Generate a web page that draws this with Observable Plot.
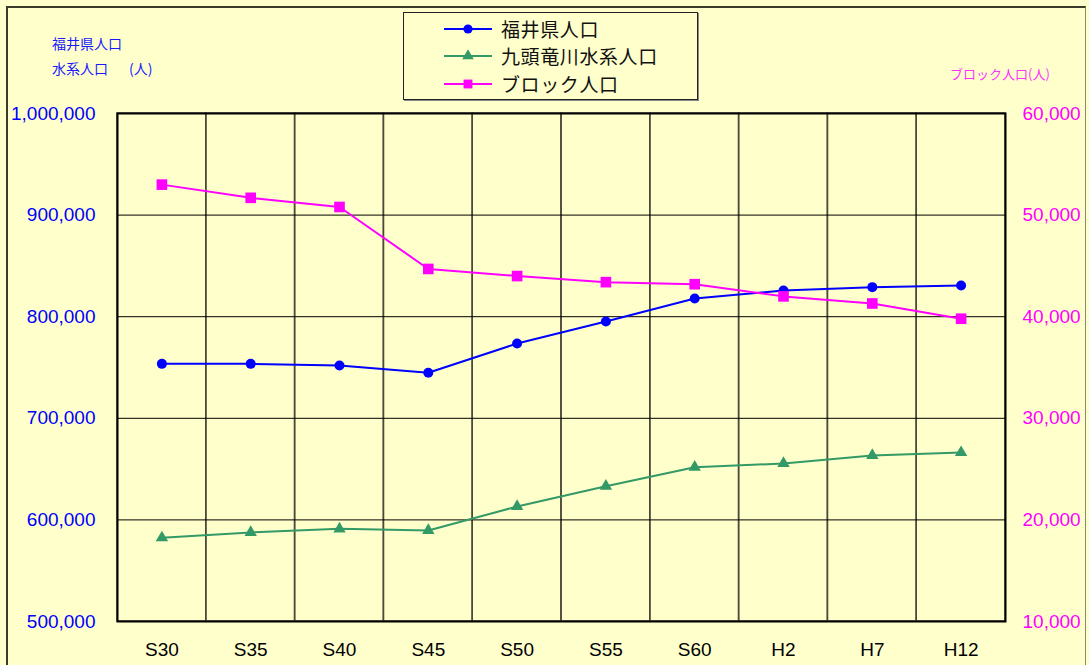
<!DOCTYPE html>
<html><head><meta charset="utf-8">
<script src="https://cdn.jsdelivr.net/npm/d3@7"></script>
<script src="https://cdn.jsdelivr.net/npm/@observablehq/plot@0.6"></script>
<style>
html,body{margin:0;padding:0;background:#ffffcc;width:1089px;height:665px;overflow:hidden;}
#wrap{position:relative;width:1089px;height:665px;}
#header{position:relative;width:1089px;height:100px;}
.jp{font-family:"Noto Sans CJK JP",sans-serif;position:absolute;white-space:nowrap;line-height:1;}
#frame{position:absolute;left:6px;top:6px;width:1077px;height:720px;border:2px solid #3b3b2b;border-right:1px solid #8a8a7a;pointer-events:none;}
#legend{position:absolute;left:403px;top:12px;width:293px;height:86px;border:1px solid #222;box-shadow:1px 1px 0 #888;background:#ffffcc;}
.item{position:absolute;left:40px;height:22px;display:flex;align-items:center;}
.item span{display:block;height:22px;line-height:22px;overflow:visible;font-family:"Noto Sans CJK JP",sans-serif;font-size:19px;letter-spacing:0.6px;margin-left:9px;color:#111;white-space:nowrap;}
#chart svg{display:block;}
</style></head>
<body>
<div id="wrap">
  <div id="header">
    <div class="jp" style="left:52px;top:36px;font-size:14px;color:#1a1aff;">福井県人口</div>
    <div class="jp" style="left:52px;top:61px;font-size:14px;color:#1a1aff;">水系人口</div>
    <div class="jp" style="left:129px;top:61px;font-size:14px;color:#1a1aff;">(人)</div>
    <div class="jp" style="left:950px;top:67px;font-size:13px;color:#ff33ff;">ブロック人口(人)</div>
    <div id="legend"></div>
  </div>
  <div id="chart"></div>
  <div id="frame"></div>
</div>
<script>
// ---- data ----
const years = ["S30","S35","S40","S45","S50","S55","S60","H2","H7","H12"];
const fukuiPop = [753600, 753600, 752000, 744800, 773600, 795300, 817900, 825800, 829100, 830700];
const basinPop = [582400, 587600, 591200, 589600, 613200, 633200, 651900, 655500, 663400, 666300];
const blockPop = [53000, 51700, 50800, 44700, 44000, 43400, 43200, 42000, 41300, 39800];
const leftTicks = [500000, 600000, 700000, 800000, 900000, 1000000];
const rightTicks = [10000, 20000, 30000, 40000, 50000, 60000];
const seriesNames = ["福井県人口", "九頭竜川水系人口", "ブロック人口"];
const seriesColors = ["#0000ff", "#339966", "#ff00ff"];
const seriesSymbols = ["circle", "triangle", "square"];

// secondary axis mapping (right axis 10,000–60,000 onto left 500,000–1,000,000)
const toLeft = v => 500000 + (v - 10000) * 10;
const toRight = v => (v - 500000) / 10 + 10000;
const fmt = d3.format(",");

const rows = years.map((yr, i) => ({yr, fukui: fukuiPop[i], basin: basinPop[i], block: toLeft(blockPop[i])}));

const chart = Plot.plot({
  width: 1089, height: 565,
  marginLeft: 117, marginRight: 84, marginTop: 13, marginBottom: 44,
  style: {background: "transparent", fontFamily: '"Liberation Sans", Arial, sans-serif', fontSize: "19px", overflow: "visible"},
  x: {type: "band", domain: years, padding: 0, round: false},
  y: {domain: [500000, 1000000]},
  marks: [
    Plot.cell(years, {x: d => d, stroke: "#4a4a3a", strokeWidth: 1.5, fill: "none"}),
    Plot.ruleY(leftTicks, {stroke: "#000", strokeWidth: 1}),
    Plot.frame({stroke: "#000", strokeWidth: 2}),
    Plot.axisY({anchor: "left", ticks: leftTicks, tickFormat: fmt, tickSize: 0, tickPadding: 22, fill: "#0000ff", stroke: "#0000ff", fontSize: 19, label: null}),
    Plot.axisY({anchor: "right", ticks: rightTicks.map(toLeft), tickFormat: d => fmt(toRight(d)), tickSize: 0, tickPadding: 17, fill: "#ff00ff", stroke: "#ff00ff", fontSize: 19, label: null}),
    Plot.axisX({tickSize: 0, tickPadding: 21, fontSize: 19, fill: "#000", label: null}),
    Plot.line(rows, {x: "yr", y: "fukui", stroke: seriesColors[0], strokeWidth: 2}),
    Plot.line(rows, {x: "yr", y: "basin", stroke: seriesColors[1], strokeWidth: 2}),
    Plot.line(rows, {x: "yr", y: "block", stroke: seriesColors[2], strokeWidth: 2}),
    Plot.dot(rows, {x: "yr", y: "fukui", fill: seriesColors[0], symbol: "circle", r: 5}),
    Plot.dot(rows, {x: "yr", y: "basin", fill: seriesColors[1], symbol: "triangle", r: 4.6}),
    Plot.dot(rows, {x: "yr", y: "block", fill: seriesColors[2], symbol: "square", r: 6})
  ]
});
document.getElementById("chart").appendChild(chart);

// legend
const legend = document.getElementById("legend");
const rowTops = [4.5, 32, 59.5];
seriesNames.forEach((name, i) => {
  const item = document.createElement("div");
  item.className = "item";
  item.style.top = rowTops[i] + "px";
  const sym = d3.symbol().type({circle: d3.symbolCircle, triangle: d3.symbolTriangle, square: d3.symbolSquare}[seriesSymbols[i]])
    .size(Math.PI * Math.pow([4.6, 4.3, 5][i], 2))();
  item.innerHTML = `<svg width="48" height="20"><line x1="0" x2="48" y1="10" y2="10" stroke="${seriesColors[i]}" stroke-width="2"/><path d="${sym}" transform="translate(24,10)" fill="${seriesColors[i]}"/></svg><span>${name}</span>`;
  legend.appendChild(item);
});
</script>
</body></html>
